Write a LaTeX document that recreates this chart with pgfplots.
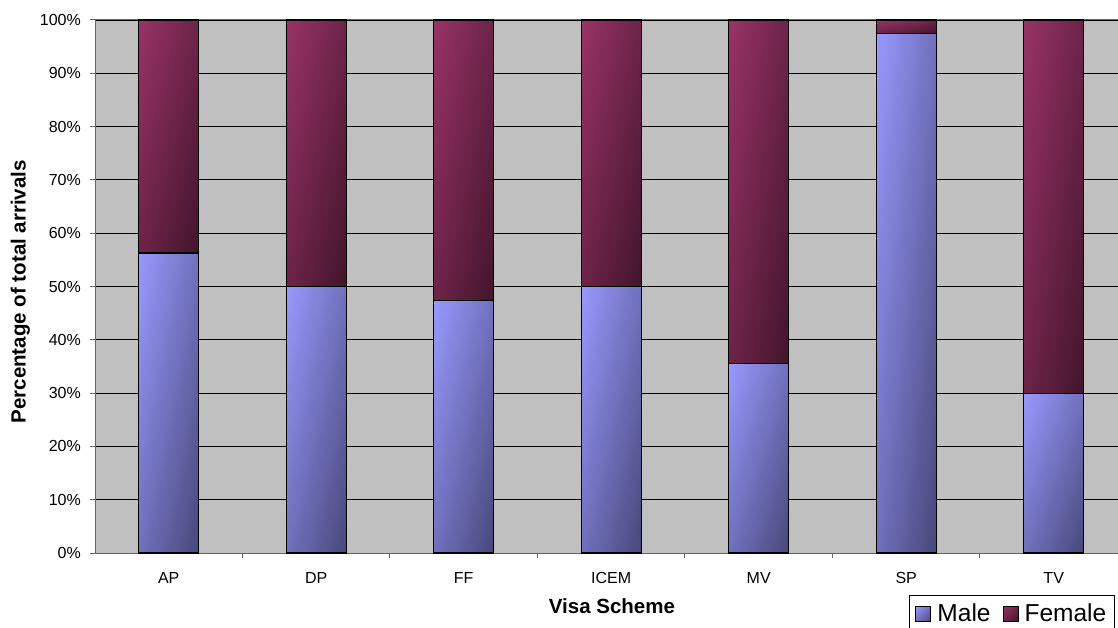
\documentclass[border=0pt]{standalone}
\usepackage{fontspec}
\setmainfont{Liberation Sans}
\usepackage{pgfplots}
\pgfplotsset{compat=1.18}

\definecolor{plotbg}{HTML}{C0C0C0}

% diagonal gradients: light at the top left corner of a bar, dark at its bottom right
% colour = start + t*(end-start), t = (x - y + 50)/100 on the fitted 25..75bp square
\pgfdeclarefunctionalshading{maleshade}{\pgfpoint{0bp}{0bp}}{\pgfpoint{100bp}{100bp}}{}{
  sub 50 add 100 div
  dup 0 lt {pop 0} if dup 1 gt {pop 1} if
  dup -0.32 mul 0.60 add exch
  dup -0.32 mul 0.60 add exch
  -0.52 mul 1.00 add
}
\pgfdeclarefunctionalshading{femshade}{\pgfpoint{0bp}{0bp}}{\pgfpoint{100bp}{100bp}}{}{
  sub 50 add 100 div
  dup 0 lt {pop 0} if dup 1 gt {pop 1} if
  dup -0.34 mul 0.60 add exch
  dup -0.12 mul 0.20 add exch
  -0.23 mul 0.40 add
}

\pgfplotsset{
  malebar/.style={draw=black, line width=1.2pt, shade, shading=maleshade},
  fembar/.style={draw=black, line width=1.2pt, shade, shading=femshade},
  % common frame for every layer, so that each stacked bar gets its own gradient
  barframe/.style={
    at={(95pt,74pt)}, anchor=south west,
    scale only axis,
    width=1032.5pt, height=533pt,
    ybar stacked,
    bar width=60pt,
    xmin=-0.5, xmax=6.5,
    ymin=0, ymax=100,
  },
  barlayer/.style={barframe, hide axis},
}

\begin{document}
\begin{tikzpicture}[x=1pt,y=1pt]
\useasboundingbox (0,0) rectangle (1118,627);
% main axis: background, grid, ticks, labels, legend and the AP bar
\begin{axis}[
  barframe,
  axis background/.style={fill=plotbg},
  axis line style={draw=black!60, line width=1pt},
  ymajorgrids,
  major grid style={draw=black, line width=0.9pt},
  tick align=outside,
  xtick pos=left, ytick pos=left,
  major tick length=5pt,
  tick style={draw=black!60, line width=1pt},
  ytick={0,10,...,100},
  yticklabels={0\%,10\%,20\%,30\%,40\%,50\%,60\%,70\%,80\%,90\%,100\%},
  xtick={0.5,1.5,...,5.5},
  xticklabels={},
  extra x ticks={0,1,2,3,4,5,6},
  extra x tick labels={AP,DP,FF,ICEM,MV,SP,TV},
  extra x tick style={major tick length=0pt, grid=none},
  ticklabel style={font=\fontsize{16}{19}\selectfont},
  yticklabel style={anchor=east, inner sep=0pt, xshift=-9pt},
  xticklabel style={anchor=base, inner sep=0pt, yshift=-30pt},
  xlabel={Visa Scheme},
  ylabel={Percentage of total arrivals},
  every axis x label/.style={at={(axis description cs:0.5007,-0.1144)}, anchor=base,
    font=\bfseries\fontsize{20.5}{24}\selectfont},
  every axis y label/.style={at={(axis description cs:-0.0722,0.49)}, anchor=center, rotate=90,
    font=\bfseries\fontsize{20.5}{24}\selectfont},
  legend columns=2,
  legend style={at={(axis description cs:0.7884,-0.0788)}, anchor=north west,
    draw=black, line width=1pt, fill=white,
    font=\fontsize{24.5}{28}\selectfont,
    inner xsep=6pt, inner ysep=6pt,
    /tikz/every odd column/.append style={column sep=4pt},
    /tikz/every even column/.append style={column sep=10pt}},
  legend image code/.code={%
    \draw[#1, draw=black, line width=1pt] (0pt,-8pt) rectangle (15pt,7pt);},
]
\addplot[malebar] coordinates {(0,56.3)};
\addlegendentry{Male}
\addplot[fembar] coordinates {(0,43.7)};
\addlegendentry{Female}
\end{axis}
% DP
\begin{axis}[barlayer]
\addplot[malebar] coordinates {(1,50.0)};
\addplot[fembar] coordinates {(1,50.0)};
\end{axis}
% FF
\begin{axis}[barlayer]
\addplot[malebar] coordinates {(2,47.3)};
\addplot[fembar] coordinates {(2,52.7)};
\end{axis}
% ICEM
\begin{axis}[barlayer]
\addplot[malebar] coordinates {(3,50.0)};
\addplot[fembar] coordinates {(3,50.0)};
\end{axis}
% MV
\begin{axis}[barlayer]
\addplot[malebar] coordinates {(4,35.6)};
\addplot[fembar] coordinates {(4,64.4)};
\end{axis}
% SP
\begin{axis}[barlayer]
\addplot[malebar] coordinates {(5,97.4)};
\addplot[fembar] coordinates {(5,2.6)};
\end{axis}
% TV
\begin{axis}[barlayer]
\addplot[malebar] coordinates {(6,30.0)};
\addplot[fembar] coordinates {(6,70.0)};
\end{axis}
\end{tikzpicture}
\end{document}
